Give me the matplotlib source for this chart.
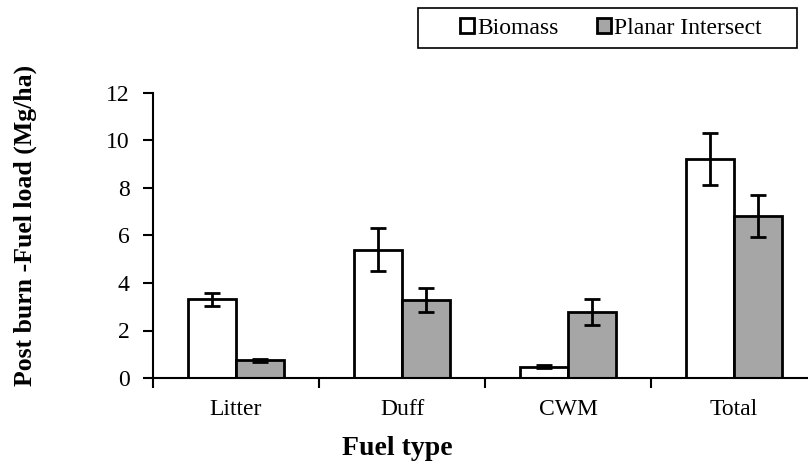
import numpy as np
import matplotlib.pyplot as plt
from matplotlib.patches import Patch, Rectangle

plt.rcParams['font.family'] = ['Liberation Serif', 'DejaVu Serif']

categories = ["Litter", "Duff", "CWM", "Total"]
biomass = [3.32, 5.40, 0.48, 9.22]
biomass_err = [0.28, 0.90, 0.07, 1.10]
planar = [0.74, 3.28, 2.78, 6.82]
planar_err = [0.06, 0.50, 0.55, 0.88]

fig = plt.figure(figsize=(8.08, 4.66), dpi=100)
ax = fig.add_axes([153 / 808, 88 / 466, 664 / 808, 285 / 466])

x = np.arange(len(categories))
w = 0.29
err_kw = dict(ecolor="black", elinewidth=2, capsize=6, capthick=2)

ax.bar(x - w / 2, biomass, w, yerr=biomass_err, color="white",
       edgecolor="black", linewidth=2, error_kw=err_kw, label="Biomass")
ax.bar(x + w / 2, planar, w, yerr=planar_err, color="#a6a6a6",
       edgecolor="black", linewidth=2, error_kw=err_kw, label="Planar Intersect")

ax.set_xlim(-0.5, 3.5)
ax.set_ylim(0, 12)
ax.set_yticks(range(0, 13, 2))
ax.set_xticks(np.arange(-0.5, 4.0, 1.0))
ax.set_xticklabels([])
ax.set_xticks(x, minor=True)
ax.set_xticklabels(categories, minor=True, fontsize=17)
ax.tick_params(axis="x", which="minor", length=0, pad=15)
ax.tick_params(axis="x", which="major", direction="out", length=7, width=1.5)
ax.tick_params(axis="y", direction="out", length=7, width=1.5, labelsize=17, pad=10)

for side in ["top", "right"]:
    ax.spines[side].set_visible(False)
for side in ["left", "bottom"]:
    ax.spines[side].set_linewidth(1.5)

# axis titles placed in figure coordinates
fig.text(397 / 808, 1 - 455 / 466, "Fuel type", fontsize=20, fontweight="bold",
         ha="center", va="baseline")
fig.text(25 / 808, 1 - 225 / 466, "Post burn -Fuel load (Mg/ha)", fontsize=18.5,
         fontweight="bold", rotation=90, ha="center", va="center")

# legend: wide box drawn separately, entries placed inside it
fig.patches.append(Rectangle((418 / 808, 1 - 48 / 466), 379 / 808, 40 / 466,
                             transform=fig.transFigure, fill=False,
                             edgecolor="black", linewidth=1.2))
handles = [Patch(facecolor="white", edgecolor="black", linewidth=2, label="Biomass"),
           Patch(facecolor="#a6a6a6", edgecolor="black", linewidth=2, label="Planar Intersect")]
fig.legend(handles=handles, loc="center left", bbox_to_anchor=(460 / 808, 1 - 28 / 466),
           ncol=2, fontsize=17, frameon=False,
           handlelength=0.6, handleheight=0.6, handletextpad=0.12, columnspacing=1.65,
           borderpad=0, borderaxespad=0)

fig.savefig("out.png", dpi=100)
